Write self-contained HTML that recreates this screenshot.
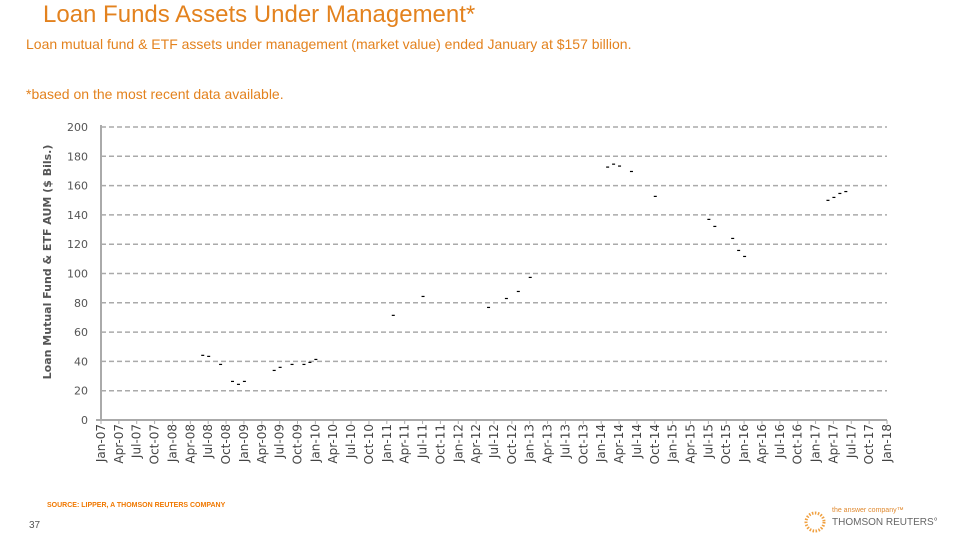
<!DOCTYPE html>
<html><head><meta charset="utf-8">
<style>
body{margin:0;width:960px;height:540px;background:#fff;overflow:hidden;position:relative;font-family:"Liberation Sans",sans-serif}
.t{position:absolute;white-space:nowrap}
</style></head>
<body>
<div class="t" style="left:43px;top:1px;font-size:24px;color:#e3821e">Loan Funds Assets Under Management*</div>
<div class="t" style="left:26px;top:36px;font-size:14px;color:#e3821e">Loan mutual fund &amp; ETF assets under management (market value) ended January at $157 billion.</div>
<div class="t" style="left:26px;top:86px;font-size:14px;color:#e3821e">*based on the most recent data available.</div>
<svg id="chart" width="960" height="540" style="position:absolute;left:0;top:0">
<text transform="translate(51,262) rotate(-90)" text-anchor="middle" font-size="11" font-weight="bold" fill="#555" font-family="DejaVu Sans, sans-serif">Loan Mutual Fund &amp; ETF AUM ($ Bils.)</text>
<text x="47" y="507" font-size="7" font-weight="bold" fill="#f07800">SOURCE: LIPPER, A THOMSON REUTERS COMPANY</text>
<text x="29" y="528" font-size="10" fill="#555">37</text>
<circle cx="815" cy="522" r="9" fill="none" stroke="#f0a040" stroke-width="3" stroke-dasharray="1.5 1.5"/>
<text x="832" y="512" font-size="7" fill="#e08a30">the answer company™</text>
<text x="832" y="525" font-size="10" fill="#666">THOMSON REUTERS°</text>
</svg>
<script>
const yTicks=[0,20,40,60,80,100,120,140,160,180,200];
const xLabels=["Jan-07","Apr-07","Jul-07","Oct-07","Jan-08","Apr-08","Jul-08","Oct-08","Jan-09","Apr-09","Jul-09","Oct-09","Jan-10","Apr-10","Jul-10","Oct-10","Jan-11","Apr-11","Jul-11","Oct-11","Jan-12","Apr-12","Jul-12","Oct-12","Jan-13","Apr-13","Jul-13","Oct-13","Jan-14","Apr-14","Jul-14","Oct-14","Jan-15","Apr-15","Jul-15","Oct-15","Jan-16","Apr-16","Jul-16","Oct-16","Jan-17","Apr-17","Jul-17","Oct-17","Jan-18"];
const months=[17,18,20,22,23,24,29,30,32,34,35,36,49,54,65,68,70,72,85,86,87,89,93,102,103,106,107,108,122,123,124,125];
const values=[44.2,43.5,38,26.4,24.4,26.4,33.9,36,38,38,39.4,41.4,71.5,84.4,76.9,83,87.8,97.4,172.7,174.7,173.4,169.7,152.7,137,132.2,124,115.8,111.7,150,152,154.7,156];
const NS="http://www.w3.org/2000/svg",svg=document.getElementById('chart');
const X0=101,X1=887,Y0=420,Y1=127,NM=132;
const xs=m=>X0+m*(X1-X0)/NM, ys=v=>Y0-v*(Y0-Y1)/200;
function mk(t,a){const e=document.createElementNS(NS,t);for(const k in a)e.setAttribute(k,a[k]);svg.appendChild(e);return e;}
yTicks.forEach(v=>{
 if(v>0){const g=mk('line',{x1:X0,x2:X1,y1:ys(v),y2:ys(v),stroke:'#aaa','stroke-width':1.5,'stroke-dasharray':'5 3'});
 
 }
 const t=mk('text',{x:88,y:ys(v)+4,'text-anchor':'end','font-size':11,fill:'#555','font-family':'DejaVu Sans, sans-serif'});t.textContent=v;
 
 
});
const ya=mk('line',{x1:X0,x2:X0,y1:Y1-2,y2:Y0,stroke:'#aaa','stroke-width':2});


const xa=mk('line',{x1:X0-5,x2:X1,y1:Y0,y2:Y0,stroke:'#aaa','stroke-width':2});


xLabels.forEach((l,i)=>{
 const x=xs(i*3);
 mk('line',{x1:x,x2:x,y1:Y0,y2:Y0+4,stroke:'#aaa','stroke-width':1});
 const t=mk('text',{transform:`translate(${x+4},${Y0+4}) rotate(-90)`,'text-anchor':'end','font-size':12,fill:'#444','font-family':'DejaVu Sans, sans-serif'});
 t.textContent=l;
 
 
});
months.forEach((m,i)=>{
 const p=mk('rect',{x:xs(m)-1,y:ys(values[i])-0.5,width:3,height:1.2,fill:'#000'});
 
 
});
</script>
</body></html>
